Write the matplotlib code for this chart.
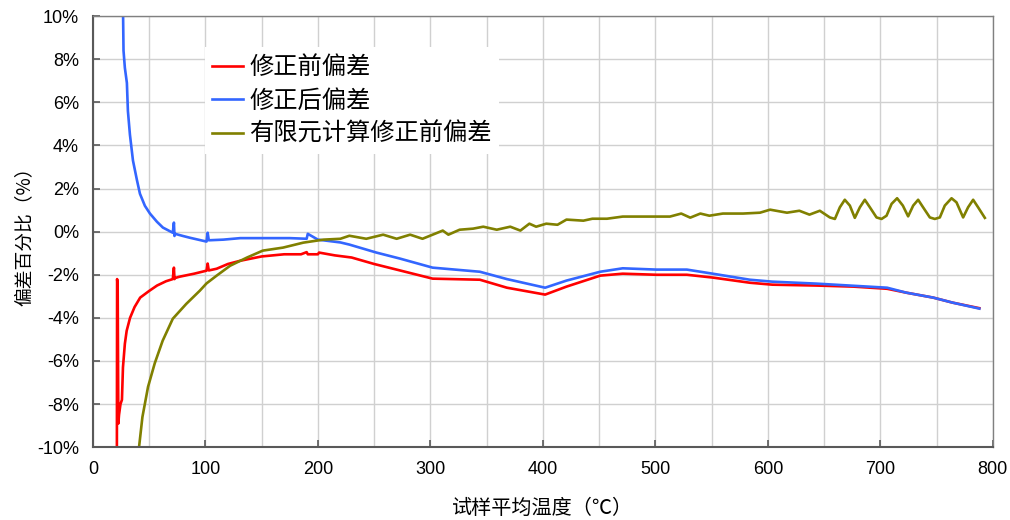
import matplotlib
matplotlib.use("Agg")
from matplotlib import pyplot as plt
from matplotlib.ticker import MultipleLocator, PercentFormatter

# 修正前偏差
red_x = [21.3, 21.5, 22.0, 22.6, 23.2, 24.5, 25.8, 26.7, 28.4, 30, 33, 37, 42, 50, 57, 65,
         71, 72, 72.5, 73, 77, 90, 101, 102, 103, 110, 120, 131, 150, 170, 185, 190, 191,
         200, 201, 215, 230, 250, 273, 302, 344, 368, 402, 421, 451, 471, 501, 528, 551,
         584, 604, 643, 676, 706, 723, 747, 764, 788]
red_y = [-10, -2.2, -2.5, -8.9, -8.5, -8.0, -7.8, -6.3, -5.2, -4.6, -4.0, -3.5, -3.06, -2.75,
         -2.5, -2.3, -2.2, -1.67, -2.2, -2.15, -2.09, -1.95, -1.81, -1.48, -1.8, -1.72, -1.5,
         -1.35, -1.15, -1.05, -1.05, -0.95, -1.05, -1.05, -0.97, -1.1, -1.2, -1.5, -1.8,
         -2.18, -2.23, -2.6, -2.92, -2.55, -2.04, -1.95, -2.0, -2.0, -2.13, -2.37, -2.46,
         -2.5, -2.55, -2.65, -2.83, -3.06, -3.29, -3.55]

# 修正后偏差
blue_x = [26.7, 27.2, 28.4, 30.2, 31.1, 32.9, 35.6, 39.1, 41.8, 46.2, 50.7, 56.9, 62.2, 71,
          72, 72.5, 73, 80, 86, 101, 102, 103, 116, 131, 150, 175, 190, 191, 200, 220, 228,
          252, 273, 302, 344, 368, 402, 421, 451, 471, 501, 528, 551, 584, 604, 643, 676,
          706, 723, 747, 764, 788]
blue_y = [10.5, 8.4, 7.6, 6.9, 5.6, 4.5, 3.3, 2.4, 1.76, 1.2, 0.84, 0.46, 0.19, -0.05,
          0.42, -0.2, -0.1, -0.2, -0.28, -0.46, -0.05, -0.4, -0.37, -0.3, -0.3, -0.3, -0.33,
          -0.1, -0.37, -0.5, -0.6, -0.97, -1.25, -1.67, -1.86, -2.2, -2.6, -2.27, -1.86,
          -1.7, -1.76, -1.76, -1.95, -2.23, -2.32, -2.41, -2.51, -2.6, -2.83, -3.06, -3.29,
          -3.57]

# 有限元计算修正前偏差
fem_x = [41, 44, 49, 55, 62, 71, 83, 95, 101, 110, 122, 137, 151, 169, 187, 205, 220, 228,
         243, 258, 270, 282, 293, 311, 316, 326, 338, 347, 359, 371, 380, 388, 394, 403, 413,
         421, 436, 444, 457, 471, 513, 523, 531, 540, 548, 560, 578, 593, 602, 617, 628, 637,
         646.2, 655.1, 659.6, 664.0, 668.4, 672.9, 677.3, 681.8, 686.2, 690.7, 696.6, 701.1,
         705.5, 710.0, 714.9, 720.0, 724.7, 729.2, 733.6, 738.0, 744.0, 748.4, 752.9, 757.3,
         763.3, 767.7, 773.6, 778.0, 782.5, 786.9, 792.9]
fem_y = [-10, -8.6, -7.2, -6.1, -5.06, -4.04, -3.35, -2.74, -2.4, -2.04, -1.58, -1.2, -0.88,
         -0.74, -0.51, -0.37, -0.33, -0.19, -0.33, -0.14, -0.33, -0.14, -0.33, 0.05, -0.14,
         0.09, 0.14, 0.23, 0.09, 0.23, 0.05, 0.37, 0.23, 0.37, 0.32, 0.56, 0.51, 0.6, 0.6,
         0.7, 0.7, 0.84, 0.65, 0.84, 0.74, 0.84, 0.84, 0.88, 1.02, 0.88, 0.97, 0.79,
         0.97, 0.66, 0.59, 1.13, 1.48, 1.21, 0.64, 1.13, 1.48, 1.13, 0.66, 0.59,
         0.74, 1.29, 1.55, 1.21, 0.71, 1.21, 1.48, 1.13, 0.66, 0.59, 0.66, 1.21,
         1.55, 1.36, 0.66, 1.13, 1.48, 1.13, 0.64]

labels = ["修正前偏差", "修正后偏差", "有限元计算修正前偏差"]
colors = ["#FF0000", "#3366FF", "#808000"]

plt.rcParams["font.family"] = ["Liberation Sans", "Noto Sans CJK SC"]
plt.rcParams["axes.unicode_minus"] = False
cjk = ["Noto Sans CJK SC", "DejaVu Sans"]


def main():
    fig = plt.figure(figsize=(10.1, 5.2), dpi=100)
    ax = fig.add_axes([0.092, 0.140, 0.891, 0.829])

    for xs, ys, label, color in zip([red_x, blue_x, fem_x], [red_y, blue_y, fem_y], labels, colors):
        ax.plot(xs, ys, color=color, lw=1.9, label=label, solid_joinstyle="round")

    ax.set_xlim(0, 800)
    ax.set_ylim(-10, 10)
    ax.xaxis.set_major_locator(MultipleLocator(100))
    ax.xaxis.set_minor_locator(MultipleLocator(50))
    ax.yaxis.set_major_locator(MultipleLocator(2))
    ax.yaxis.set_major_formatter(PercentFormatter(xmax=100, decimals=0))

    ax.grid(True, which="both", color="#D0D0D0", lw=1)
    ax.set_axisbelow(True)
    ax.tick_params(which="major", direction="in", length=5, width=1.2, color="#595959",
                   labelsize=13, pad=10)
    ax.tick_params(which="minor", length=0)
    for side in ["left", "bottom"]:
        ax.spines[side].set_color("#595959")
        ax.spines[side].set_linewidth(1.5)
    for side in ["top", "right"]:
        ax.spines[side].set_color("#808080")
        ax.spines[side].set_linewidth(1.0)

    ax.set_xlabel("试样平均温度（℃）", family=cjk, fontsize=14.5, labelpad=14)
    ax.set_ylabel("偏差百分比（%）", family=cjk, fontsize=13.5, labelpad=2)

    leg = ax.legend(loc="upper left", bbox_to_anchor=(0.124, 0.928), borderaxespad=0,
                    prop={"family": cjk, "size": 17.5}, handlelength=1.3, handletextpad=0.25,
                    labelspacing=0.3, borderpad=0.3, fancybox=False, framealpha=1,
                    edgecolor="none")
    leg.get_frame().set_facecolor("white")

    fig.savefig("out.png", dpi=100)


if __name__ == "__main__":
    main()
